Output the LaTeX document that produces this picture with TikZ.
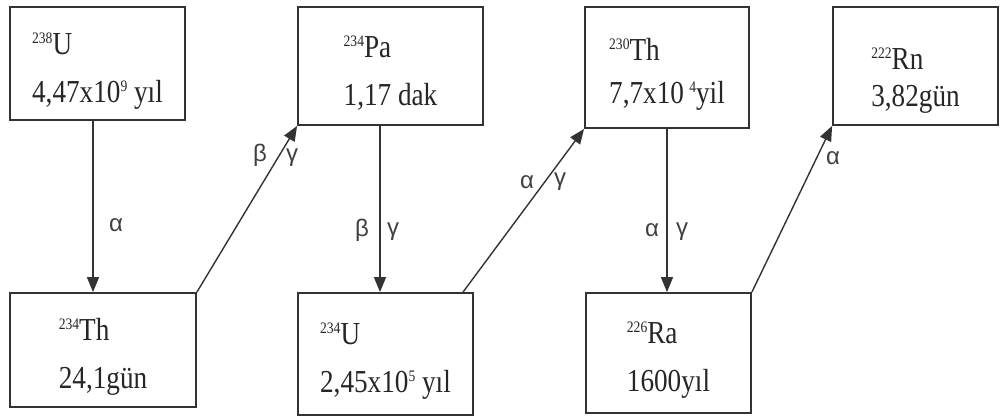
\documentclass[tikz,border=0pt]{standalone}
\usepackage{fontspec}
\setmainfont[FakeStretch=0.85]{Liberation Serif}
\newfontfamily\gk{Liberation Sans}
\usetikzlibrary{arrows.meta}
\newcommand\isotope[2]{\rule{0pt}{36pt}\raisebox{11pt}{\fontsize{16}{16}\selectfont #1}#2}
\newcommand\pw[1]{\raisebox{11pt}{\fontsize{16}{16}\selectfont #1}}
\definecolor{ink}{HTML}{333333}
\tikzset{
  nuc/.style={draw=ink, line width=1.8pt, rectangle, inner sep=0pt, align=left,
    text=black!85, font=\fontsize{32}{48}\selectfont},
  decay/.style={draw=ink, line width=1.4pt, -{Triangle[length=15pt,width=12pt]}},
  lbl/.style={font=\gk\fontsize{24}{24}\selectfont, text=black!75, inner sep=0pt}
}
\begin{document}
\begin{tikzpicture}[x=1pt,y=-1pt]
\useasboundingbox (0,0) rectangle (1002,416);
\node[nuc, minimum width=175pt, minimum height=113pt] (b1) at (97.5,63.5) {\isotope{238}{U}\\4,47x10\pw{9} yıl};
\node[nuc, minimum width=186pt, minimum height=114pt] (b2) at (103,350) {\isotope{234}{Th}\\24,1gün};
\node[nuc, minimum width=185pt, minimum height=118pt] (b3) at (390.5,66) {\isotope{234}{Pa}\\1,17 dak};
\node[nuc, minimum width=175pt, minimum height=122pt] (b4) at (385.5,354) {\isotope{234}{U}\\2,45x10\pw{5} yıl};
\node[nuc, minimum width=164pt, minimum height=121pt, font=\fontsize{32}{43}\selectfont] (b5) at (667,67.5) {\isotope{230}{Th}\\7,7x10\,\pw{4}yil};
\node[nuc, minimum width=165pt, minimum height=118pt, font=\fontsize{32}{37}\selectfont] (b6) at (915.5,66) {\rule{0pt}{50pt}\isotope{222}{Rn}\\3,82gün};
\node[nuc, minimum width=165pt, minimum height=120pt] (b7) at (668.5,353) {\isotope{226}{Ra}\\1600yıl};

\draw[decay] (b1.south -| 93,0) -- (b2.north -| 93,0);
\draw[decay] (b2.north east) -- (b3.south west);
\draw[decay] (b3.south -| 380,0) -- (b4.north -| 380,0);
\draw[decay] (b4.north -| 463,0) -- (b5.south west);
\draw[decay] (b5.south -| 667,0) -- (b7.north -| 667,0);
\draw[decay] (b7.north east) -- (b6.south west);

\node[lbl] (l1) at (116,225) {α};
\node[lbl] (l2a) at (260,155) {β};
\node[lbl] (l2b) at (292,158) {γ};
\node[lbl] (l3a) at (362,230) {β};
\node[lbl] (l3b) at (393,232) {γ};
\node[lbl] (l4a) at (527,182) {α};
\node[lbl] (l4b) at (560,182) {γ};
\node[lbl] (l5a) at (652,230) {α};
\node[lbl] (l5b) at (682,232) {γ};
\node[lbl] (l6) at (833,158) {α};
\end{tikzpicture}
\end{document}
